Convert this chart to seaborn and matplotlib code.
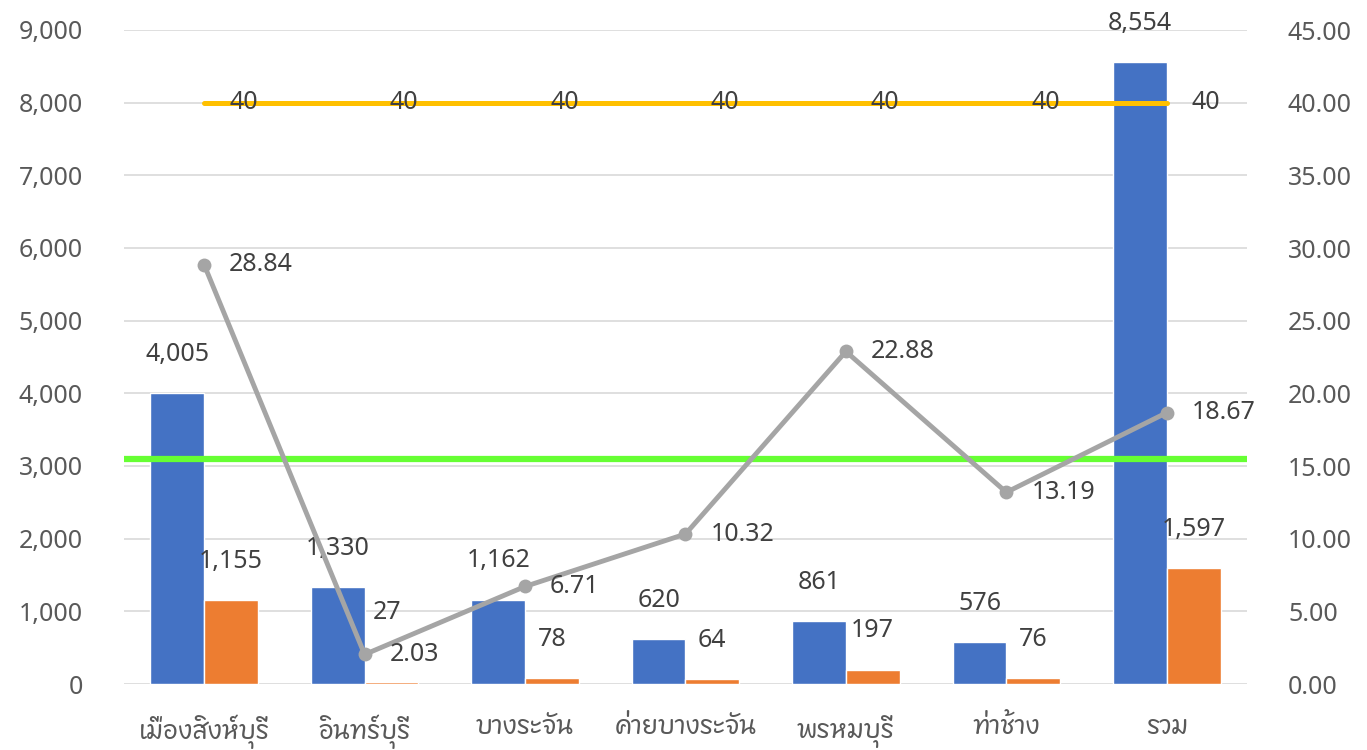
import numpy as np
import pandas as pd
import matplotlib
matplotlib.use("Agg")
import matplotlib.pyplot as plt
import seaborn as sns
from matplotlib import font_manager as fm
from matplotlib.ft2font import FT2Font

# data
districts = ["เมืองสิงห์บุรี", "อินทร์บุรี", "บางระจัน", "ค่ายบางระจัน", "พรหมบุรี", "ท่าช้าง", "รวม"]
blue_vals = [4005, 1330, 1162, 620, 861, 576, 8554]
orange_vals = [1155, 27, 78, 64, 197, 76, 1597]
rate_vals = [28.84, 2.03, 6.71, 10.32, 22.88, 13.19, 18.67]
target_vals = [40, 40, 40, 40, 40, 40, 40]
green_level = 15.5

BLUE = "#4472C4"
ORANGE = "#ED7D31"
GRAY = "#A5A5A5"
YELLOW = "#FFC000"
GREEN = "#66FF33"
TXT = "#595959"
LBL = "#404040"

# find any installed font that covers Thai
thai_font = None
for f in fm.fontManager.ttflist:
    try:
        if 0x0E40 in FT2Font(f.fname).get_charmap():
            if thai_font is None or "Sans" in f.name:
                thai_font = f.name
    except Exception:
        pass

sns.set_theme(style="white")
fams = ["Noto Sans"] + ([thai_font] if thai_font else []) + ["DejaVu Sans"]
plt.rcParams["font.family"] = fams

df = pd.DataFrame({
    "district": districts * 2,
    "value": blue_vals + orange_vals,
    "series": ["a"] * len(districts) + ["b"] * len(districts),
})

fig = plt.figure(figsize=(13.67, 7.5), dpi=100)
ax = fig.add_axes([0.0907, 0.088, 0.8215, 0.872])

sns.barplot(data=df, x="district", y="value", hue="series", palette=[BLUE, ORANGE],
            width=0.67, gap=0, ax=ax, legend=False, saturation=1, errorbar=None)

ax.set_ylim(0, 9000)
ax.set_xlim(-0.5, len(districts) - 0.5)
ax.set_yticks(np.arange(0, 9001, 1000))
ax.set_yticklabels([f"{v:,}" for v in range(0, 9001, 1000)])
ax.yaxis.grid(True, color="#D9D9D9", lw=1.2)
ax.set_axisbelow(True)
for s in ax.spines.values():
    s.set_visible(False)
ax.set_xlabel("")
ax.set_ylabel("")
ax.tick_params(axis="y", length=0, pad=29.5, labelsize=18, labelcolor=TXT)
ax.tick_params(axis="x", length=0, pad=22, labelsize=18, labelcolor=TXT)

# bar value labels (tiny bars get lifted a bit, like the original)
for cont in ax.containers:
    for rect in cont:
        h = rect.get_height()
        off = 50 if h < 40 else 28
        ax.annotate(f"{int(round(h)):,}", (rect.get_x() + rect.get_width() / 2, h),
                    xytext=(-3 if h < 40 else 0, off), textcoords="offset points",
                    ha="center", va="center", fontsize=18, color=LBL)

ax2 = ax.twinx()
ax2.set_ylim(0, 45)
ax2.set_yticks(np.arange(0, 46, 5))
ax2.set_yticklabels([f"{v:.2f}" for v in range(0, 46, 5)])
ax2.tick_params(axis="y", length=0, pad=29.5, labelsize=18, labelcolor=TXT)
for s in ax2.spines.values():
    s.set_visible(False)

pos = np.arange(len(districts))
ax2.axhline(green_level, color=GREEN, lw=4.5, zorder=3)
sns.lineplot(x=pos, y=target_vals, color=YELLOW, lw=3.6, ax=ax2, zorder=4,
             solid_capstyle="round")
sns.lineplot(x=pos, y=rate_vals, color=GRAY, lw=3.5, marker="o", markersize=10,
             markeredgewidth=0, ax=ax2, zorder=5)

for x, v in zip(pos, target_vals):
    ax2.annotate(f"{v}", (x, v), xytext=(18, 0), textcoords="offset points",
                 ha="left", va="center", fontsize=18, color=LBL, zorder=6)
for x, v in zip(pos, rate_vals):
    ax2.annotate(f"{v:.2f}", (x, v), xytext=(18, 0), textcoords="offset points",
                 ha="left", va="center", fontsize=18, color=LBL, zorder=6)

ax2.set_xlim(-0.5, len(districts) - 0.5)
ax2.set_ylabel("")

fig.savefig("out.png", dpi=100)
